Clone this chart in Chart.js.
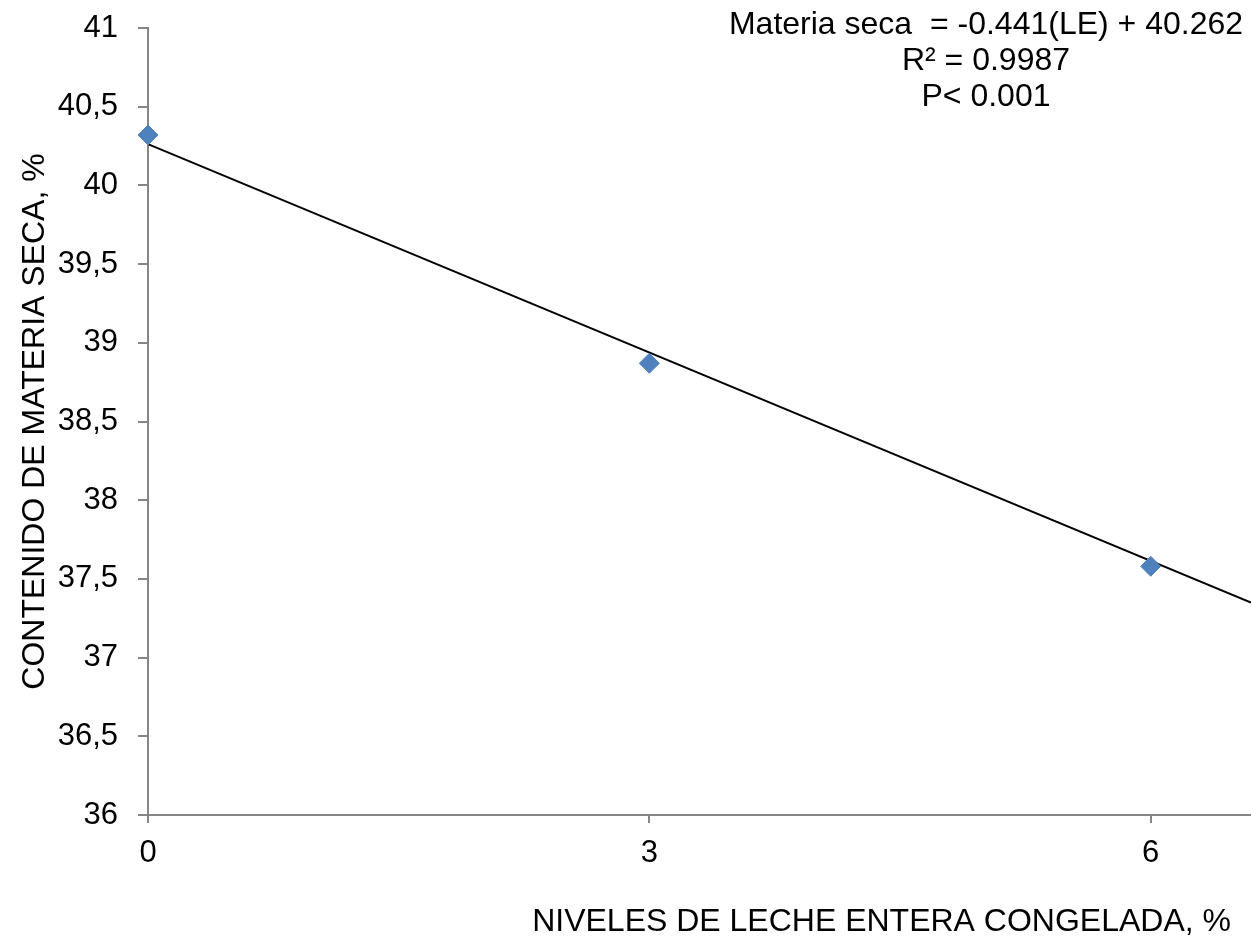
<!DOCTYPE html>
<html>
<head>
<meta charset="utf-8">
<script src="https://cdn.jsdelivr.net/npm/chart.js@4"></script>
<style>
  html, body { margin: 0; padding: 0; background: #fff; }
  #wrap { width: 1251px; height: 937px; }
</style>
</head>
<body>
<div id="wrap"><canvas id="chart" width="1251" height="937"></canvas></div>
<script>
// niveles de leche entera congelada (%) y materia seca (%)
const levels = [0, 3, 6];
const dryMatter = [40.32, 38.87, 37.58];

// linea de tendencia, extremos
const trendX = [0, 6.6];
const trendY = [40.262, 37.35];

const xTicks = [0, 3, 6];
const eqLines = ["Materia seca  = -0.441(LE) + 40.262", "R\u00b2 = 0.9987", "P< 0.001"];
const xTitle = "NIVELES DE LECHE ENTERA CONGELADA, %";

const FONT = "'Liberation Sans', Arial, sans-serif";
const AXIS_GRAY = "#868686";

// texto de la ecuacion y titulo del eje x
const textPlugin = {
  id: "texts",
  afterDraw(chart) {
    const ctx = chart.ctx;
    ctx.save();
    ctx.fillStyle = "#000";
    ctx.font = "32px " + FONT;
    ctx.textAlign = "center";
    ctx.textBaseline = "middle";
    eqLines.forEach((t, i) => ctx.fillText(t, 986, 25 + i * 36));
    ctx.textAlign = "right";
    ctx.fillText(xTitle, 1231, 922);
    ctx.restore();
  }
};

const ctx = document.getElementById("chart").getContext("2d");
new Chart(ctx, {
  type: "scatter",
  data: {
    datasets: [
      {
        label: "Materia seca",
        data: levels.map((x, i) => ({ x: x, y: dryMatter[i] })),
        pointStyle: "rectRot",
        pointRadius: 10,
        pointHoverRadius: 10,
        backgroundColor: "#4F81BD",
        borderColor: "#4F81BD",
        borderWidth: 1,
        clip: false,
        order: 1
      },
      {
        type: "line",
        label: "Tendencia",
        data: trendX.map((x, i) => ({ x: x, y: trendY[i] })),
        borderColor: "#000",
        borderWidth: 2,
        pointRadius: 0,
        fill: false,
        clip: false,
        order: 2
      }
    ]
  },
  options: {
    responsive: false,
    animation: false,
    layout: { autoPadding: false, padding: { top: 28, right: 0, left: 0, bottom: 0 } },
    plugins: {
      legend: { display: false },
      tooltip: { enabled: false }
    },
    scales: {
      x: {
        type: "linear",
        min: 0,
        max: 6.6,
        afterBuildTicks: (scale) => { scale.ticks = xTicks.map(v => ({ value: v })); },
        afterFit: (scale) => { scale.height = 122; scale.paddingLeft = 0; scale.paddingRight = 0; },
        grid: { drawOnChartArea: false, drawTicks: true, tickLength: 8, color: AXIS_GRAY, lineWidth: 2 },
        border: { display: true, color: AXIS_GRAY, width: 2 },
        ticks: { color: "#000", font: { family: FONT, size: 31 }, padding: 12, maxRotation: 0 }
      },
      y: {
        min: 36,
        max: 41,
        afterFit: (scale) => { scale.width = 148; scale.paddingTop = 0; scale.paddingBottom = 0; },
        grid: { drawOnChartArea: false, drawTicks: true, tickLength: 10, color: AXIS_GRAY, lineWidth: 2 },
        border: { display: true, color: AXIS_GRAY, width: 2 },
        ticks: {
          stepSize: 0.5,
          color: "#000",
          font: { family: FONT, size: 31 },
          padding: 20,
          callback: (v) => String(v).replace(".", ",")
        },
        title: {
          display: true,
          text: "CONTENIDO DE MATERIA SECA, %",
          color: "#000",
          font: { family: FONT, size: 32 },
          padding: { top: 16, bottom: 0 }
        }
      }
    }
  },
  plugins: [textPlugin]
});
</script>
</body>
</html>
